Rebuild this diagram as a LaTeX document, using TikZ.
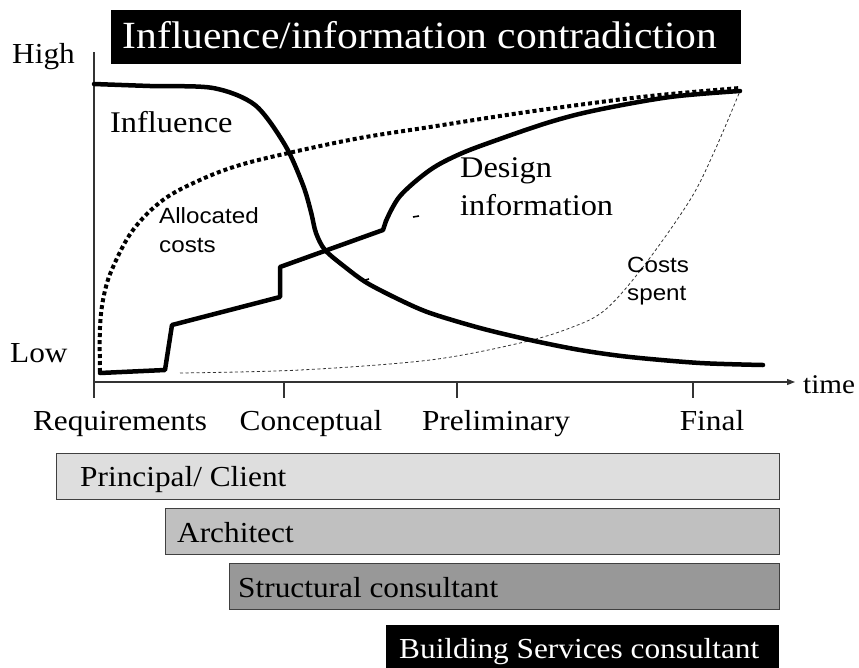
\documentclass[tikz,border=0pt]{standalone}
\usepackage{fontspec}
\setmainfont{Liberation Serif}[FakeStretch=1.08]
\newfontfamily\labsans{Liberation Sans}[FakeStretch=1.1]
\usetikzlibrary{arrows.meta}
\definecolor{barA}{HTML}{DEDEDE}
\definecolor{barB}{HTML}{C0C0C0}
\definecolor{barC}{HTML}{989898}
\definecolor{barline}{HTML}{404040}
\tikzset{
  txt/.style={inner sep=0pt, anchor=base west, font=\fontsize{29}{34}\selectfont},
  mid/.style={inner sep=0pt, anchor=base, font=\fontsize{29}{34}\selectfont},
  sans/.style={inner sep=0pt, anchor=base west, font=\labsans\fontsize{22}{26}\selectfont},
  barbox/.style={draw=barline, line width=1.2pt, anchor=north west, inner sep=0pt, minimum height=46pt},
  thick curve/.style={line width=4.5pt, line cap=round, line join=round},
  axis/.style={line width=1.1pt, draw=black!80},
}
\begin{document}
\begin{tikzpicture}[x=1pt,y=-1pt]
\useasboundingbox (0,0) rectangle (859,667);
% title
\node[fill=black, anchor=north west, minimum width=630pt, minimum height=54pt, inner sep=0pt] (titlebox) at (111,10) {};
\node[inner sep=0pt, anchor=base, text=white, font=\fontsize{38.5}{44}\selectfont] (title) at (420,48) {Influence/information contradiction};
% axes
\coordinate (ytop) at (94,52);
\coordinate (ybot) at (94,398);
\coordinate (xl) at (94,382);
\coordinate (xr) at (795,382);
\draw[axis] (ytop) -- (ybot);
\draw[axis, -{Triangle[length=8pt,width=6pt]}] (xl) -- (xr);
\foreach \t/\n in {284/c,457/p,693/f} {
  \coordinate (t\n a) at (\t,382);
  \coordinate (t\n b) at (\t,398);
  \draw[axis] (t\n a) -- (t\n b);
}
\node[txt] (high) at (12,63) {High};
\node[txt] (low) at (10,362) {Low};
\node[txt, font=\fontsize{27}{32}\selectfont] (time) at (803,393) {time};
\node[mid] (req) at (120,430) {Requirements};
\node[mid] (con) at (311,430) {Conceptual};
\node[mid] (pre) at (496,430) {Preliminary};
\node[mid] (fin) at (712,430) {Final};
% costs spent (thin dashed)
\draw[line width=0.8pt, dash pattern=on 3pt off 2.5pt, draw=black!80]
  plot[smooth, tension=0.55] coordinates {(180,373) (300,370) (430,360) (520,343) (570,328) (605,310) (643,267) (690,200) (715,150) (740,91)};
% allocated costs (dotted)
\draw[line width=4pt, dash pattern=on 4pt off 3pt]
  plot[smooth, tension=0.6] coordinates {(100,372) (100,327) (104,295) (113,267) (133,230) (163,200) (200,180) (240,165) (293,152) (360,138) (430,127) (500,116) (563,107) (650,96) (740,88)};
% influence
\draw[thick curve]
  plot[smooth, tension=0.5] coordinates {(94,84) (150,86) (213,88) (255,105) (285,145) (303,185) (311,212) (316,233) (325,250) (345,267) (367,283) (400,300) (430,313) (480,328) (530,340) (580,350) (630,357) (700,363) (763,365)};
% design information
\draw[thick curve] (100,373) -- (165,370) -- (172,325) -- (280,297) -- (280,267) -- (383,230) -- (386,221);
\draw[thick curve]
  plot[smooth, tension=0.55] coordinates {(386,221) (400,196) (430,170) (460,154) (497,140) (550,122) (597,110) (670,97) (740,91)};
% small marks
\draw[line width=1.6pt] (413,217) -- (419,216);
\draw[line width=1.6pt] (362,281) -- (369,279);
% curve labels
\node[txt, font=\fontsize{30}{34}\selectfont] (infl) at (110,132) {Influence};
\node[txt, font=\fontsize{30}{34}\selectfont] (des1) at (460,177) {Design};
\node[txt, font=\fontsize{30}{34}\selectfont] (des2) at (460,215) {information};
\node[sans] (all1) at (159,223) {Allocated};
\node[sans] (all2) at (159,252) {costs};
\node[sans] (cs1) at (627,272) {Costs};
\node[sans] (cs2) at (627,300) {spent};
% participant bars
\node[barbox, fill=barA, minimum width=723pt] (bprin) at (56,453) {};
\node[txt] (lprin) at (80,486) {Principal/ Client};
\node[barbox, fill=barB, minimum width=614pt] (barch) at (165,508) {};
\node[txt] (larch) at (177,542) {Architect};
\node[barbox, fill=barC, minimum width=550pt] (bstru) at (229,563) {};
\node[txt] (lstru) at (238,597) {Structural consultant};
\node[fill=black, anchor=north west, inner sep=0pt, minimum width=393pt, minimum height=48pt] (bbuild) at (386,625) {};
\node[txt, text=white] (lbuild) at (399,658) {Building Services consultant};
\end{tikzpicture}
\end{document}
